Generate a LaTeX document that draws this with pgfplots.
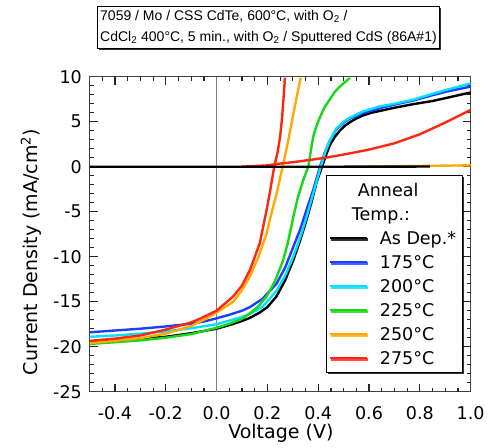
\documentclass[border=0pt]{standalone}
\usepackage{fontspec}
\setmainfont{DejaVu Sans}
\newfontfamily\boxfont{Liberation Sans}
\usepackage{pgfplots}
\pgfplotsset{compat=1.18}
\usetikzlibrary{shadows}

\definecolor{c175}{HTML}{1F3DFF}
\definecolor{c200}{HTML}{00E1FF}
\definecolor{c225}{HTML}{14D914}
\definecolor{c250}{HTML}{FFAA00}
\definecolor{c275}{HTML}{FF2612}
\definecolor{framec}{HTML}{404040}

\pgfplotsset{tk/.style={forget plot, color=black!85, line width=1.2pt}}

\begin{document}
\begin{tikzpicture}
\begin{axis}[
  scale only axis, width=381pt, height=315pt,
  xmin=-0.5, xmax=1.0, ymin=-25, ymax=10,
  xtick={-0.4,-0.2,0,0.2,0.4,0.6,0.8,1.0},
  minor xtick={-0.45,-0.35,-0.3,-0.25,-0.15,-0.1,-0.05,0.05,0.1,0.15,0.25,0.3,0.35,0.45,0.5,0.55,0.65,0.7,0.75,0.85,0.9,0.95},
  ytick={-25,-20,...,10},
  minor ytick={-24,-23,-22,-21,-19,-18,-17,-16,-14,-13,-12,-11,-9,-8,-7,-6,-4,-3,-2,-1,1,2,3,4,6,7,8,9},
  tick align=inside,
  major tick length=8pt, minor tick length=4pt,
  tick style={black!85, line width=1.2pt},
  axis line style={line width=1.2pt, draw=framec},
  /pgf/number format/assume math mode=true,
  tick label style={font=\fontsize{17.5}{20}\selectfont},
  x tick label style={/pgf/number format/fixed, /pgf/number format/fixed zerofill, /pgf/number format/precision=1},
  xticklabel style={anchor=base, yshift=-27.6pt, inner sep=0pt},
  yticklabel style={anchor=east, xshift=-7.6pt, inner sep=0pt},
  label style={font=\fontsize{19}{22}\selectfont},
  xlabel={Voltage (V)},
  ylabel={Current Density (mA/cm\textsuperscript{2})},
  xlabel style={at={(axis description cs:0.502,-0.148)}, anchor=base},
  ylabel style={at={(axis description cs:-0.138,0.4435)}, anchor=base},
  legend style={
    at={(axis description cs:0.62,0.688)}, anchor=north west,
    draw=black, line width=1.3pt, fill=white,
    inner xsep=2pt, inner ysep=5pt,
    row sep=5.3pt, column sep=8pt,
    nodes={inner xsep=4pt, inner ysep=3pt, text height=12.7pt, text depth=0pt},
    font=\fontsize{17.5}{20}\selectfont,
    drop shadow={shadow xshift=1.5pt, shadow yshift=-1.5pt, opacity=0.8, fill=black},
  },
  legend cell align=left,
  legend image code/.code={\draw[#1] (0pt,0pt) -- (37pt,0pt);},
  every axis plot/.append style={line width=2.4pt, line join=round},
]
% reference line at V = 0
\addplot[forget plot, color=gray, line width=1.3pt] coordinates {(0,-25) (0,10)};

% tick marks, inside on all four sides (8pt major, 4pt minor)
\pgfplotsinvokeforeach{-0.4,-0.2,0.2,0.4,0.6,0.8}{
  \addplot[tk] coordinates {(#1,-25) (#1,-24.111)};
  \addplot[tk] coordinates {(#1,10) (#1,9.111)};
}
\pgfplotsinvokeforeach{-0.45,-0.35,-0.3,-0.25,-0.15,-0.1,-0.05,0.05,0.1,0.15,0.25,0.3,0.35,0.45,0.5,0.55,0.65,0.7,0.75,0.85,0.9,0.95}{
  \addplot[tk] coordinates {(#1,-25) (#1,-24.556)};
  \addplot[tk] coordinates {(#1,10) (#1,9.556)};
}
\pgfplotsinvokeforeach{-20,-15,-10,-5,0,5}{
  \addplot[tk] coordinates {(-0.5,#1) (-0.4685,#1)};
  \addplot[tk] coordinates {(1.0,#1) (0.9685,#1)};
}
\pgfplotsinvokeforeach{-24,-23,-22,-21,-19,-18,-17,-16,-14,-13,-12,-11,-9,-8,-7,-6,-4,-3,-2,-1,1,2,3,4,6,7,8,9}{
  \addplot[tk] coordinates {(-0.5,#1) (-0.4843,#1)};
  \addplot[tk] coordinates {(1.0,#1) (0.9843,#1)};
}

\addlegendimage{empty legend}
\addlegendentry{\hspace*{-22pt}Anneal}
\addlegendimage{empty legend}
\addlegendentry{\hspace*{-28pt}Temp.:}

% illuminated curves
\addplot[black] coordinates {
(-0.5,-19.5) (-0.4,-19.35) (-0.3,-19.15) (-0.2,-18.9) (-0.1,-18.5) (0.0,-18.0)
(0.05,-17.6) (0.1,-17.15) (0.131,-16.8) (0.17,-16.2) (0.2,-15.6) (0.236,-14.4)
(0.27,-12.6) (0.302,-10.4) (0.33,-8.1) (0.354,-5.9) (0.375,-3.8) (0.394,-1.7)
(0.415,0.0) (0.433,1.45) (0.446,2.4) (0.465,3.3) (0.485,4.0) (0.505,4.55)
(0.525,4.95) (0.55,5.35) (0.577,5.7) (0.61,6.0) (0.643,6.2) (0.7,6.55)
(0.774,6.95) (0.85,7.3) (0.906,7.65) (1.0,8.25)};
\addlegendentry{As Dep.*}

\addplot[c175] coordinates {
(-0.5,-18.4) (-0.4,-18.2) (-0.3,-18.0) (-0.2,-17.75) (-0.1,-17.45) (-0.05,-17.2)
(0.0,-16.85) (0.05,-16.45) (0.1,-16.0) (0.131,-15.6) (0.18,-14.7) (0.236,-13.0)
(0.27,-11.2) (0.302,-8.9) (0.33,-6.9) (0.354,-4.8) (0.38,-2.6) (0.407,0.0)
(0.425,1.5) (0.446,2.9) (0.47,4.1) (0.5,4.9) (0.525,5.35) (0.577,5.95)
(0.643,6.5) (0.7,6.9) (0.774,7.35) (0.85,7.95) (0.906,8.35) (1.0,8.9)};
\addlegendentry{175°C}

\addplot[c200] coordinates {
(-0.5,-18.9) (-0.4,-18.75) (-0.3,-18.55) (-0.2,-18.3) (-0.1,-17.95) (0.0,-17.5)
(0.05,-17.1) (0.1,-16.7) (0.131,-16.35) (0.18,-15.6) (0.236,-13.8) (0.27,-12.1)
(0.302,-10.0) (0.33,-7.8) (0.354,-5.6) (0.38,-3.0) (0.41,0.0) (0.43,1.8)
(0.446,2.9) (0.47,4.2) (0.5,5.0) (0.525,5.45) (0.577,6.15) (0.643,6.7)
(0.7,7.0) (0.774,7.45) (0.85,8.1) (0.906,8.55) (1.0,9.25)};
\addlegendentry{200°C}

\addplot[c225] coordinates {
(-0.5,-19.7) (-0.4,-19.5) (-0.3,-19.3) (-0.2,-19.0) (-0.1,-18.6) (0.0,-17.9)
(0.05,-17.45) (0.1,-16.9) (0.131,-16.3) (0.165,-15.5) (0.197,-14.4) (0.23,-12.7)
(0.262,-10.4) (0.28,-8.5) (0.302,-5.6) (0.32,-3.4) (0.341,-1.5) (0.361,0.0)
(0.38,3.3) (0.393,4.5) (0.407,5.5) (0.425,6.6) (0.446,7.5) (0.465,8.3)
(0.485,8.9) (0.505,9.4) (0.525,9.85)};
\addlegendentry{225°C}

\addplot[c250] coordinates {
(-0.5,-19.6) (-0.4,-19.35) (-0.3,-19.05) (-0.2,-18.55) (-0.1,-17.7) (-0.05,-17.0)
(0.0,-16.2) (0.066,-15.0) (0.1,-13.7) (0.131,-12.2) (0.165,-10.0) (0.197,-7.4)
(0.215,-5.3) (0.236,-3.0) (0.26,0.0) (0.28,2.6) (0.295,4.8) (0.31,7.0) (0.331,9.9)};
\addlegendentry{250°C}

\addplot[c275] coordinates {
(-0.5,-19.35) (-0.4,-19.1) (-0.3,-18.75) (-0.2,-18.1) (-0.1,-17.3) (-0.066,-16.9)
(0.0,-16.0) (0.066,-14.4) (0.1,-13.2) (0.131,-11.5) (0.17,-8.5) (0.197,-4.8)
(0.21,-2.8) (0.222,-0.8) (0.23,0.4) (0.24,1.6) (0.25,3.3) (0.258,5.5)
(0.264,7.8) (0.269,9.9)};
\addlegendentry{275°C}

% dark curves
\addplot[forget plot, c275] coordinates {
(0.1,0.0) (0.2,0.15) (0.25,0.35) (0.3,0.5) (0.38,0.8) (0.44,1.05) (0.5,1.35)
(0.6,1.9) (0.7,2.6) (0.8,3.6) (0.9,4.9) (1.0,6.3)};
\addplot[forget plot, c250] coordinates {
(0.6,0.0) (0.8,0.08) (0.9,0.12) (1.0,0.15)};
\addplot[forget plot, black] coordinates {
(-0.5,0.0) (0.0,0.0) (0.5,0.0) (0.84,0.02)};
\end{axis}
\node[draw=black, line width=1pt, fill=white, anchor=north west, align=left,
  inner xsep=3pt, inner ysep=4pt, font=\boxfont\fontsize{14}{21}\selectfont,
  drop shadow={shadow xshift=1.5pt, shadow yshift=-1.5pt, opacity=0.8, fill=black}]
  at (7.1pt,385.7pt)
  {7059 / Mo / CSS CdTe, 600°C, with O\textsubscript{2} /\\CdCl\textsubscript{2} 400°C, 5 min., with O\textsubscript{2} / Sputtered CdS (86A\#1)};
\path (-89.6pt,-55.3pt) rectangle (404.4pt,391.7pt);
\end{tikzpicture}
\end{document}
